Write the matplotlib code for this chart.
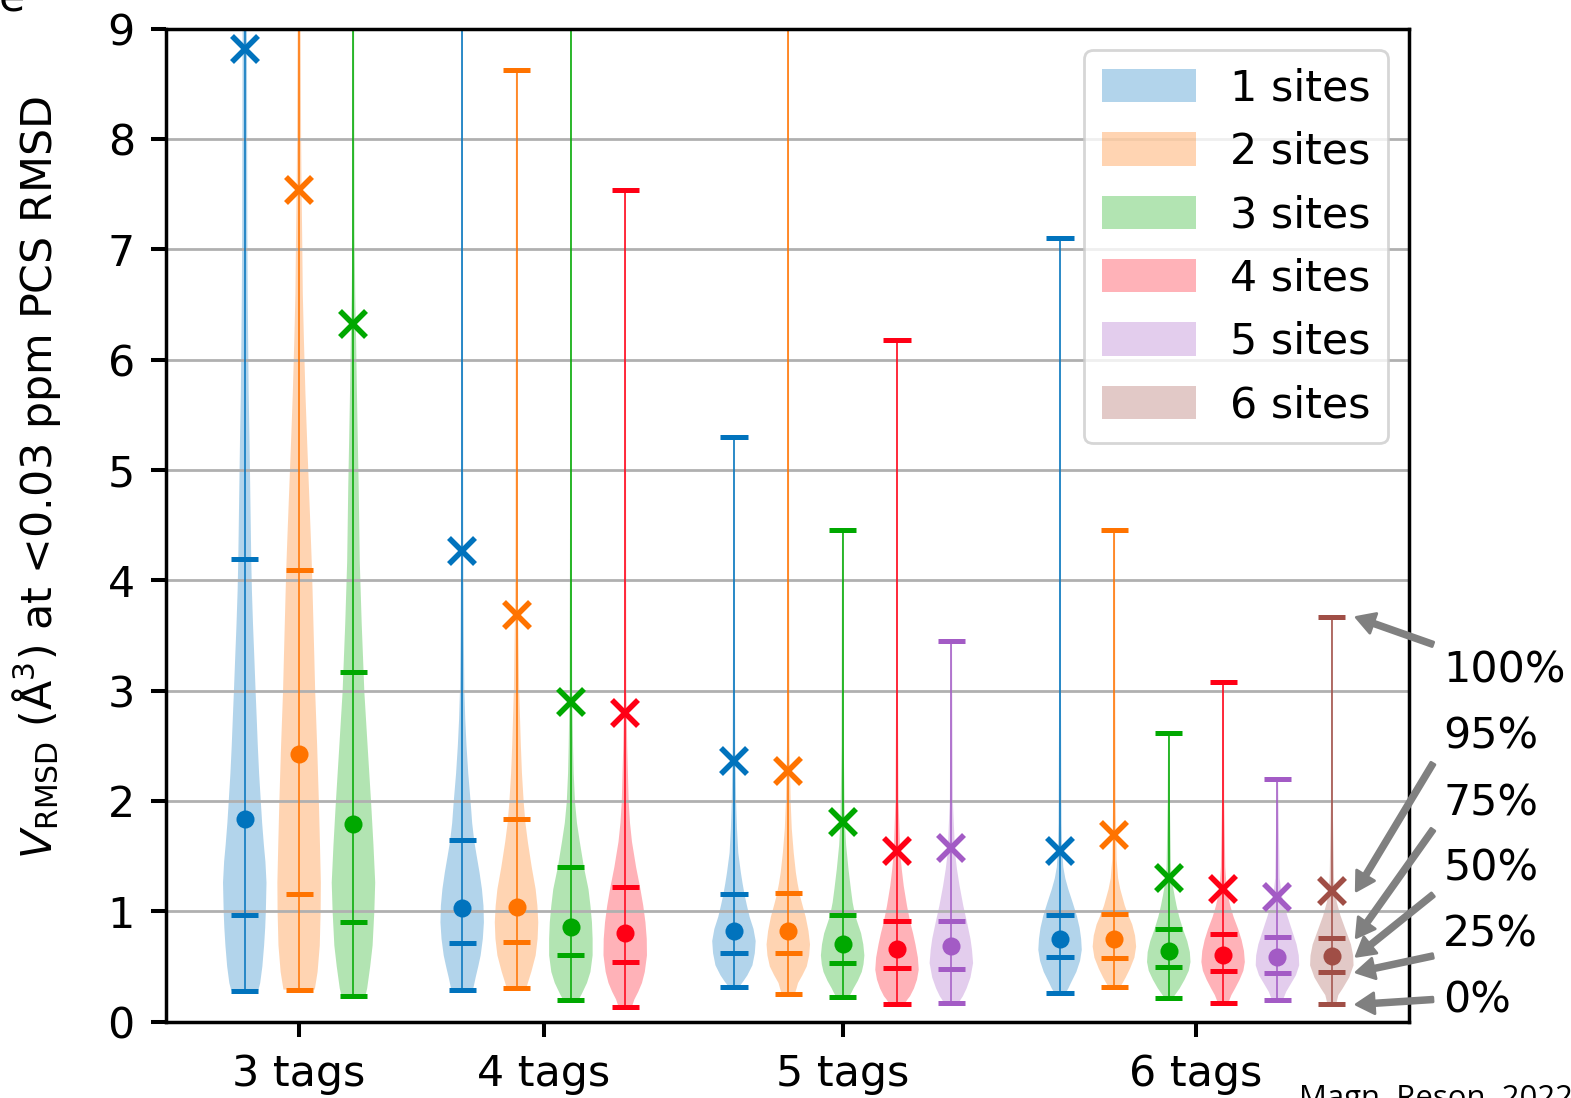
import numpy as np
import matplotlib
matplotlib.use("Agg")
import matplotlib.pyplot as plt
from matplotlib.patches import Patch

plt.rcParams['font.family'] = ['DejaVu Sans']
plt.rcParams['mathtext.fontset'] = 'dejavusans'
FS = 15.4

# ---- data ---------------------------------------------------------------
group_labels = ["3 tags", "4 tags", "5 tags", "6 tags"]
group_sizes = [3, 4, 5, 6]
site_labels = ["1 sites", "2 sites", "3 sites", "4 sites", "5 sites", "6 sites"]
site_colors = ["#0173BD", "#FF7300", "#00A800", "#FF0015", "#A35BC5", "#A04E46"]

# per-violin statistics, ordered 3 tags (1-3 sites), 4 tags (1-4), 5 tags (1-5), 6 tags (1-6)
v_min = [0.28, 0.29, 0.235, 0.29, 0.30, 0.196, 0.13, 0.317, 0.25, 0.226, 0.16, 0.17,
         0.256, 0.31, 0.217, 0.17, 0.196, 0.155]
v_q25 = [0.97, 1.16, 0.906, 0.715, 0.725, 0.60, 0.54, 0.625, 0.625, 0.53, 0.483, 0.474,
         0.586, 0.58, 0.495, 0.456, 0.44, 0.447]
v_median = [1.84, 2.43, 1.79, 1.03, 1.04, 0.86, 0.80, 0.82, 0.82, 0.70, 0.655, 0.685,
            0.752, 0.746, 0.637, 0.607, 0.59, 0.592]
v_q75 = [4.19, 4.09, 3.17, 1.65, 1.84, 1.40, 1.22, 1.157, 1.17, 0.97, 0.915, 0.909,
         0.97, 0.975, 0.84, 0.794, 0.77, 0.762]
v_p95 = [8.82, 7.54, 6.32, 4.27, 3.69, 2.90, 2.80, 2.36, 2.27, 1.81, 1.547, 1.57,
         1.547, 1.69, 1.30, 1.20, 1.13, 1.185]
v_max = [10.5, 10.5, 10.5, 10.5, 8.63, 10.5, 7.54, 5.30, 10.5, 4.46, 6.18, 3.45,
         7.10, 4.46, 2.62, 3.08, 2.20, 3.665]

# density profiles (value, relative half-width) of each violin
profile_y = [
    [0.28, 0.35, 0.5, 0.69, 0.85, 1.0, 1.26, 1.45, 1.6, 1.8, 1.99, 2.25, 2.5, 2.75, 2.99, 3.3, 3.6, 3.9,
     4.17, 4.44, 4.85, 5.26, 5.7, 6.19, 6.6, 7.14, 8.07, 9.0, 10.5],
    [0.29, 0.45, 0.69, 1.0, 1.26, 1.6, 1.99, 2.5, 2.99, 3.3, 3.6, 3.9, 4.17, 4.44, 4.85, 5.26, 5.7,
     6.19, 6.6, 7.14, 7.6, 8.07, 9.0, 10.5],
    [0.235, 0.30, 0.5, 0.69, 1.0, 1.26, 1.6, 1.99, 2.5, 2.99, 3.3, 3.6, 4.17, 4.44, 4.85, 5.26, 5.7,
     6.19, 6.6, 7.14, 8.07, 9.0, 10.5],
    [0.29, 0.4, 0.5, 0.6, 0.75, 0.9, 1.05, 1.2, 1.35, 1.5, 1.63, 1.8, 1.99, 2.25, 2.5, 2.75, 3.02,
     3.5, 4.0, 4.53, 6.0, 9.0, 10.5],
    [0.30, 0.35, 0.45, 0.6, 0.75, 0.9, 1.05, 1.2, 1.4, 1.63, 1.8, 1.99, 2.25, 2.5, 3.02, 3.7, 4.5,
     6.0, 8.63],
    [0.196, 0.25, 0.35, 0.45, 0.6, 0.75, 0.9, 1.05, 1.2, 1.4, 1.63, 1.8, 1.99, 2.25, 2.5, 3.02, 4.5,
     6.0, 10.5],
    [0.13, 0.2, 0.27, 0.35, 0.45, 0.6, 0.75, 0.9, 1.05, 1.2, 1.4, 1.63, 1.8, 1.99, 2.5, 3.02, 4.5, 7.54],
    [0.317, 0.37, 0.42, 0.51, 0.62, 0.73, 0.84, 0.95, 1.05, 1.14, 1.25, 1.35, 1.53, 1.75, 1.99, 2.5,
     3.5, 5.30],
    [0.25, 0.3, 0.35, 0.42, 0.5, 0.6, 0.7, 0.82, 0.95, 1.05, 1.14, 1.25, 1.35, 1.53, 1.75, 1.99, 2.5,
     4.0, 10.5],
    [0.226, 0.26, 0.30, 0.37, 0.45, 0.52, 0.6, 0.7, 0.8, 0.9, 0.96, 1.08, 1.2, 1.38, 1.6, 1.83, 2.5, 4.46],
    [0.16, 0.2, 0.23, 0.3, 0.38, 0.47, 0.58, 0.7, 0.8, 0.9, 1.05, 1.23, 1.38, 1.53, 2.0, 3.0, 6.18],
    [0.17, 0.2, 0.23, 0.3, 0.4, 0.53, 0.65, 0.75, 0.9, 1.05, 1.23, 1.38, 1.53, 2.0, 3.45],
    [0.256, 0.3, 0.35, 0.45, 0.55, 0.65, 0.75, 0.85, 0.96, 1.08, 1.2, 1.3, 1.4, 1.55, 1.8, 3.0, 7.10],
    [0.31, 0.35, 0.40, 0.48, 0.58, 0.68, 0.78, 0.88, 0.96, 1.05, 1.2, 1.3, 1.47, 2.0, 3.0, 4.46],
    [0.217, 0.25, 0.30, 0.38, 0.46, 0.54, 0.63, 0.73, 0.84, 0.95, 1.05, 1.14, 1.25, 1.4, 2.0, 2.62],
    [0.17, 0.2, 0.24, 0.3, 0.38, 0.46, 0.54, 0.64, 0.74, 0.84, 0.95, 1.05, 1.14, 1.25, 1.4, 2.0, 3.08],
    [0.196, 0.23, 0.27, 0.33, 0.42, 0.51, 0.6, 0.7, 0.84, 0.96, 1.08, 1.18, 1.3, 2.20],
    [0.155, 0.2, 0.24, 0.3, 0.4, 0.51, 0.6, 0.7, 0.84, 0.96, 1.08, 1.18, 1.3, 2.0, 3.665],
]
profile_w = [
    [0.62, 0.71, 0.81, 0.89, 0.94, 0.97, 1.0, 0.95, 0.88, 0.80, 0.74, 0.66, 0.60, 0.55, 0.50, 0.44, 0.38,
     0.33, 0.30, 0.28, 0.25, 0.22, 0.18, 0.155, 0.135, 0.12, 0.11, 0.10, 0.08],
    [0.72, 0.85, 0.95, 0.99, 1.0, 0.96, 0.91, 0.83, 0.74, 0.70, 0.66, 0.62, 0.58, 0.53, 0.45, 0.37, 0.29,
     0.22, 0.17, 0.14, 0.11, 0.09, 0.07, 0.05],
    [0.55, 0.63, 0.77, 0.88, 0.96, 1.0, 0.92, 0.81, 0.65, 0.50, 0.44, 0.38, 0.29, 0.27, 0.24, 0.20, 0.16,
     0.12, 0.08, 0.05, 0.04, 0.03, 0.03],
    [0.50, 0.62, 0.74, 0.85, 0.95, 1.0, 0.98, 0.91, 0.80, 0.67, 0.56, 0.46, 0.39, 0.28, 0.20, 0.14, 0.10,
     0.075, 0.06, 0.05, 0.04, 0.03, 0.03],
    [0.45, 0.52, 0.68, 0.88, 0.97, 1.0, 0.96, 0.88, 0.70, 0.52, 0.41, 0.33, 0.25, 0.20, 0.12, 0.07, 0.05,
     0.04, 0.03],
    [0.35, 0.50, 0.74, 0.90, 1.0, 1.0, 0.97, 0.90, 0.81, 0.60, 0.41, 0.28, 0.19, 0.13, 0.10, 0.06, 0.04,
     0.03, 0.03],
    [0.30, 0.42, 0.60, 0.77, 0.90, 1.0, 0.99, 0.93, 0.83, 0.70, 0.50, 0.31, 0.22, 0.16, 0.09, 0.05, 0.04, 0.03],
    [0.25, 0.45, 0.62, 0.85, 0.96, 1.0, 0.90, 0.72, 0.60, 0.50, 0.40, 0.32, 0.20, 0.14, 0.10, 0.06,
     0.04, 0.03],
    [0.30, 0.38, 0.45, 0.65, 0.85, 0.96, 1.0, 0.93, 0.80, 0.66, 0.54, 0.43, 0.35, 0.25, 0.16, 0.11, 0.06,
     0.04, 0.03],
    [0.30, 0.40, 0.50, 0.70, 0.88, 0.96, 1.0, 0.95, 0.85, 0.68, 0.58, 0.46, 0.38, 0.27, 0.16, 0.10, 0.05, 0.03],
    [0.35, 0.48, 0.60, 0.78, 0.92, 1.0, 0.96, 0.85, 0.74, 0.61, 0.46, 0.31, 0.22, 0.15, 0.07, 0.04, 0.03],
    [0.35, 0.43, 0.53, 0.70, 0.88, 1.0, 0.95, 0.88, 0.72, 0.55, 0.38, 0.26, 0.17, 0.07, 0.03],
    [0.25, 0.38, 0.50, 0.75, 0.92, 1.0, 0.97, 0.90, 0.77, 0.58, 0.38, 0.24, 0.15, 0.10, 0.07, 0.04, 0.03],
    [0.25, 0.38, 0.52, 0.72, 0.92, 1.0, 0.95, 0.82, 0.65, 0.48, 0.27, 0.17, 0.10, 0.06, 0.04, 0.03],
    [0.20, 0.32, 0.50, 0.73, 0.92, 1.0, 0.97, 0.85, 0.65, 0.48, 0.36, 0.27, 0.17, 0.10, 0.05, 0.03],
    [0.25, 0.30, 0.38, 0.55, 0.76, 0.93, 1.0, 0.96, 0.85, 0.69, 0.48, 0.33, 0.23, 0.15, 0.10, 0.05, 0.03],
    [0.25, 0.32, 0.40, 0.58, 0.85, 1.0, 0.98, 0.88, 0.65, 0.45, 0.27, 0.17, 0.10, 0.03],
    [0.20, 0.25, 0.30, 0.50, 0.80, 1.0, 0.98, 0.88, 0.62, 0.40, 0.23, 0.15, 0.10, 0.04, 0.03],
]

pct_labels = ["100%", "95%", "75%", "50%", "25%", "0%"]

# ---- layout of violins --------------------------------------------------
positions, colors, group_centers = [], [], []
p = 0
for n in group_sizes:
    grp = list(range(p, p + n))
    positions += grp
    colors += site_colors[:n]
    group_centers.append((grp[0] + grp[-1]) / 2)
    p += n + 1

fig = plt.figure(figsize=(1571 / 200, 1098 / 200), dpi=200)
ax = fig.add_axes([0.10598, 0.0696, 0.7909, 0.9041])

vpstats = []
for i in range(len(positions)):
    vpstats.append(dict(coords=np.array(profile_y[i]), vals=np.array(profile_w[i]),
                        mean=v_median[i], median=v_median[i],
                        min=v_min[i], max=v_max[i]))

parts = ax.violin(vpstats, positions=positions, widths=0.8,
                  showmeans=False, showextrema=False, showmedians=False)
for body, c in zip(parts['bodies'], colors):
    body.set_facecolor(c)
    body.set_edgecolor('none')
    body.set_alpha(0.3)
    body.set_zorder(1)

cap = 0.25
for i, x in enumerate(positions):
    c = colors[i]
    ax.vlines(x, v_min[i], v_max[i], color=c, lw=0.55, zorder=2)
    ax.hlines([v_min[i], v_q25[i], v_q75[i], v_max[i]], x - cap, x + cap,
              color=c, lw=1.8, zorder=3)
    ax.plot(x, v_p95[i], marker='x', ms=9.6, mew=2.0, color=c, zorder=3, ls='none')
    ax.plot(x, v_median[i], marker='o', ms=6.5, color=c, mec='none', zorder=3, ls='none')

ax.set_xlim(-1.44, 21.42)
ax.set_ylim(0, 9)
ax.set_yticks(range(10))
ax.set_xticks(group_centers)
ax.set_xticklabels(group_labels)
ax.tick_params(labelsize=FS, width=1.45, length=5.4, pad=6)
for s in ax.spines.values():
    s.set_linewidth(1.25)
ax.set_axisbelow('line')
ax.yaxis.grid(True, color='#b0b0b0', lw=1.0)
ax.set_ylabel(r"$V_{\mathrm{RMSD}}$ (Å$^3$) at <0.03 ppm PCS RMSD", fontsize=FS)
ax.yaxis.set_label_coords(-0.0833, 0.5476)

handles = [Patch(facecolor=c, edgecolor='none', alpha=0.3) for c in site_colors]
ax.legend(handles, site_labels, loc='upper right', fontsize=FS,
          handlelength=2.2, handleheight=0.82)

# key to the marker meaning, pointing at the last violin
last = len(positions) - 1
xr = positions[last]
tips = [v_max[last], v_p95[last], v_q75[last], v_median[last], v_q25[last], v_min[last]]
tails = [3.42, 2.34, 1.74, 1.15, 0.595, 0.20]
text_y = [3.185, 2.585, 1.975, 1.39, 0.785, 0.195]
for lab, ty, tail, tip in zip(pct_labels, text_y, tails, tips):
    ax.annotate('', xy=(xr + 0.45, tip), xytext=(xr + 1.86, tail),
                arrowprops=dict(color='gray', width=1.7, headwidth=7.5,
                                headlength=6.5, shrink=0),
                annotation_clip=False)
    ax.text(xr + 2.05, ty, lab, fontsize=FS, va='center', ha='left', clip_on=False)

fig.text(25 / 1571, 1 - 12 / 1098, 'e', fontsize=FS, ha='right', va='baseline')
fig.text(1299 / 1571, -9 / 1098, 'Magn. Reson. 2022', fontsize=11.2,
         family=['Open Sans', 'DejaVu Sans'], ha='left', va='baseline')

fig.savefig('out.png', dpi=200)
